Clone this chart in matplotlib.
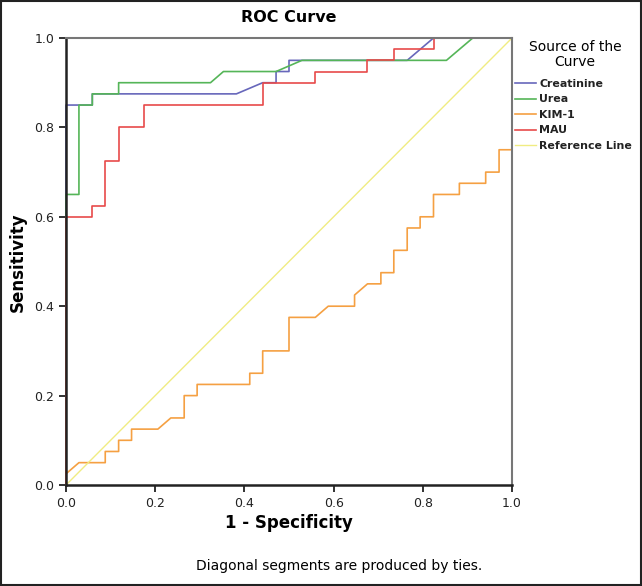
import matplotlib
matplotlib.use("Agg")
import matplotlib.pyplot as plt
from matplotlib.patches import Rectangle

# ROC points (1 - specificity, sensitivity)
creat_fpr = [0, 0, 0.059, 0.059, 0.382, 0.441, 0.471, 0.471, 0.5, 0.5, 0.765, 0.824, 1.0]
creat_tpr = [0, 0.85, 0.85, 0.875, 0.875, 0.9, 0.9, 0.925, 0.925, 0.95, 0.95, 1.0, 1.0]

urea_fpr = [0, 0, 0.029, 0.029, 0.059, 0.059, 0.118, 0.118, 0.324, 0.353, 0.471, 0.529, 0.853, 0.912, 1.0]
urea_tpr = [0, 0.65, 0.65, 0.85, 0.85, 0.875, 0.875, 0.9, 0.9, 0.925, 0.925, 0.95, 0.95, 1.0, 1.0]

kim_fpr = [0, 0, 0.029, 0.088, 0.088, 0.118, 0.118, 0.147, 0.147, 0.206, 0.235,
           0.265, 0.265, 0.294, 0.294, 0.412, 0.412, 0.441, 0.441, 0.5, 0.5,
           0.559, 0.588, 0.647, 0.647, 0.676, 0.706, 0.706, 0.735, 0.735, 0.765,
           0.765, 0.794, 0.794, 0.824, 0.824, 0.882, 0.882, 0.941, 0.941, 0.971,
           0.971, 1.0, 1.0]
kim_tpr = [0, 0.025, 0.05, 0.05, 0.075, 0.075, 0.1, 0.1, 0.125, 0.125, 0.15,
           0.15, 0.2, 0.2, 0.225, 0.225, 0.25, 0.25, 0.3, 0.3, 0.375,
           0.375, 0.4, 0.4, 0.425, 0.45, 0.45, 0.475, 0.475, 0.525, 0.525,
           0.575, 0.575, 0.6, 0.6, 0.65, 0.65, 0.675, 0.675, 0.7, 0.7,
           0.75, 0.75, 1.0]

mau_fpr = [0, 0, 0.059, 0.059, 0.088, 0.088, 0.118, 0.118, 0.176, 0.176, 0.441,
           0.441, 0.559, 0.559, 0.676, 0.676, 0.735, 0.735, 0.824, 0.824, 1.0]
mau_tpr = [0, 0.6, 0.6, 0.625, 0.625, 0.725, 0.725, 0.8, 0.8, 0.85, 0.85,
           0.9, 0.9, 0.925, 0.925, 0.95, 0.95, 0.975, 0.975, 1.0, 1.0]

ref_x = [0, 1]
ref_y = [0, 1]

ticks = [0.0, 0.2, 0.4, 0.6, 0.8, 1.0]

W, H = 642, 586
fig = plt.figure(figsize=(W / 100, H / 100), dpi=100)
ax = fig.add_axes([66 / W, 1 - 485 / H, 446 / W, 447 / H])

lw = 1.2
ax.plot(creat_fpr, creat_tpr, color="#6767bb", lw=lw, label="Creatinine", clip_on=False)
ax.plot(urea_fpr, urea_tpr, color="#55b558", lw=lw, label="Urea", clip_on=False)
ax.plot(kim_fpr, kim_tpr, color="#f5a042", lw=lw, label="KIM-1", clip_on=False)
ax.plot(mau_fpr, mau_tpr, color="#e84a4a", lw=lw, label="MAU", clip_on=False)
ax.plot(ref_x, ref_y, color="#f0ec82", lw=1.0, label="Reference Line", clip_on=False)

ax.set_xlim(0, 1)
ax.set_ylim(0, 1)
ax.set_xticks(ticks)
ax.set_yticks(ticks)
ax.set_xticklabels([f"{t:.1f}" for t in ticks])
ax.set_yticklabels([f"{t:.1f}" for t in ticks])
ax.tick_params(direction="out", length=5, width=1.3, labelsize=9, colors="#222222")

for side in ["left", "bottom"]:
    ax.spines[side].set_linewidth(1.8)
    ax.spines[side].set_color("#222222")
for side in ["top", "right"]:
    ax.spines[side].set_linewidth(1.5)
    ax.spines[side].set_color("#777777")

fig.text(289 / W, 1 - 18 / H, "ROC Curve", ha="center", va="center",
         fontsize=11.5, fontweight="bold")
fig.text(289 / W, 1 - 523 / H, "1 - Specificity", ha="center", va="center",
         fontsize=12, fontweight="bold")
fig.text(18 / W, 1 - 262 / H, "Sensitivity", ha="center", va="center",
         rotation=90, fontsize=12, fontweight="bold")
fig.text(339 / W, 1 - 566 / H, "Diagonal segments are produced by ties.",
         ha="center", va="center", fontsize=10)

# legend title, centred over the entries like SPSS does
fig.text(575 / W, 1 - 47 / H, "Source of the", ha="center", va="center", fontsize=10)
fig.text(575 / W, 1 - 62 / H, "Curve", ha="center", va="center", fontsize=10)

leg = fig.legend(loc="upper left", bbox_to_anchor=(515 / W, 1 - 79 / H),
                 frameon=False, fontsize=7.9, handlelength=1.9,
                 handletextpad=0.3, labelspacing=0.5, borderaxespad=0,
                 borderpad=0)
for t in leg.get_texts():
    t.set_fontweight("bold")
    t.set_color("#222222")

# outer frame around the whole picture
fig.patches.append(Rectangle((0.001, 0.001), 0.998, 0.997, transform=fig.transFigure,
                             fill=False, edgecolor="#222222", lw=1.5))

fig.savefig("out.png", dpi=100)
